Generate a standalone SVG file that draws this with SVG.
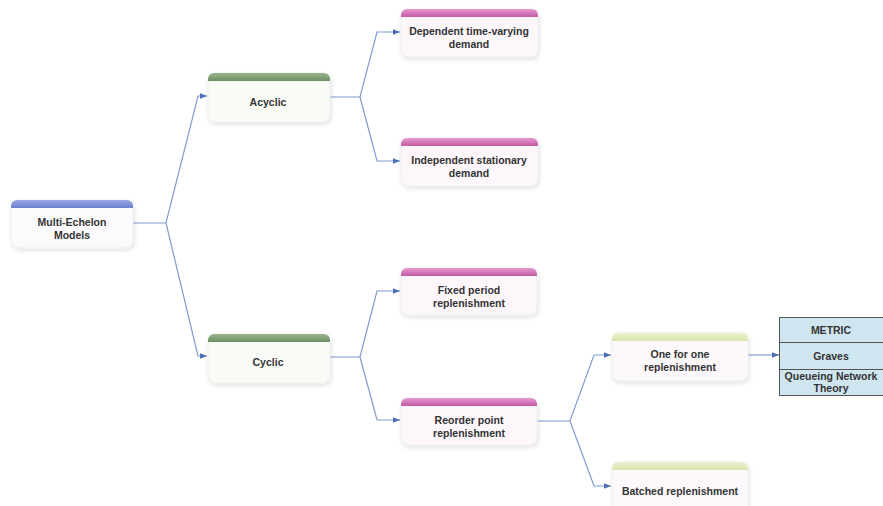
<svg xmlns="http://www.w3.org/2000/svg" width="883" height="506" viewBox="0 0 883 506">
  <defs>
    <filter id="shadow" x="-10%" y="-10%" width="130%" height="140%">
      <feDropShadow dx="1" dy="2" stdDeviation="2" flood-color="#000" flood-opacity="0.12"/>
    </filter>
    <linearGradient id="gBlue" x1="0" y1="0" x2="0" y2="1">
      <stop offset="0" stop-color="#9aa7e2"/><stop offset="1" stop-color="#6d80cf"/>
    </linearGradient>
    <linearGradient id="gGreen" x1="0" y1="0" x2="0" y2="1">
      <stop offset="0" stop-color="#9ab58f"/><stop offset="1" stop-color="#6e8f64"/>
    </linearGradient>
    <linearGradient id="gPink" x1="0" y1="0" x2="0" y2="1">
      <stop offset="0" stop-color="#e59ad0"/><stop offset="1" stop-color="#c55aa6"/>
    </linearGradient>
    <linearGradient id="gLime" x1="0" y1="0" x2="0" y2="1">
      <stop offset="0" stop-color="#eaf2cf"/><stop offset="1" stop-color="#d8e6b0"/>
    </linearGradient>
    <marker id="arrow" viewBox="0 0 10 10" refX="10" refY="5" markerWidth="9" markerHeight="7" markerUnits="userSpaceOnUse" orient="auto">
      <path d="M0,1 L10,5 L0,9 z" fill="#4a6fb5"/>
    </marker>
  </defs>
  <style>
    .body { stroke: #eeeeee; stroke-width: 1; filter: url(#shadow); }
    .label { font-family: "Liberation Sans", Arial, sans-serif; font-weight: bold; font-size: 10.5px; fill: #333333; text-anchor: middle; }
    .conn { fill: none; stroke: #7f9bd0; stroke-width: 1.2; }
    .cell { fill: #cfe6f0; stroke: #555555; stroke-width: 1; }
  </style>

  <rect width="883" height="506" fill="#ffffff"/>

  <!-- connectors -->
  <g id="connectors">
    <path class="conn" d="M133,223 H166 L198,96 H207" marker-end="url(#arrow)"/>
    <path class="conn" d="M166,223 L198,356 H207" marker-end="url(#arrow)"/>
    <path class="conn" d="M330,97 H360 L377,32 H400" marker-end="url(#arrow)"/>
    <path class="conn" d="M360,97 L377,161 H400" marker-end="url(#arrow)"/>
    <path class="conn" d="M330,357 H360 L377,291 H400" marker-end="url(#arrow)"/>
    <path class="conn" d="M360,357 L377,420 H400" marker-end="url(#arrow)"/>
    <path class="conn" d="M537,421 H570 L594,355 H611" marker-end="url(#arrow)"/>
    <path class="conn" d="M570,421 L594,486 H611" marker-end="url(#arrow)"/>
    <path class="conn" d="M748,355 H779" marker-end="url(#arrow)"/>
  </g>

  <g id="multi-echelon">
    <rect class="body" x="11" y="200" width="122" height="48" rx="7" fill="#fbfbfd"/>
    <path d="M11,208 V206 a6,6 0 0 1 6,-6 H127 a6,6 0 0 1 6,6 V208 z" fill="url(#gBlue)"/>
    <text class="label" x="72" y="226">Multi-Echelon</text>
    <text class="label" x="72" y="239">Models</text>
  </g>

  <g id="acyclic">
    <rect class="body" x="208" y="73" width="122" height="49" rx="7" fill="#f8fbf6"/>
    <path d="M208,81 V79 a6,6 0 0 1 6,-6 H324 a6,6 0 0 1 6,6 V81 z" fill="url(#gGreen)"/>
    <text class="label" x="268" y="106">Acyclic</text>
  </g>

  <g id="cyclic">
    <rect class="body" x="208" y="334" width="122" height="49" rx="7" fill="#f8fbf6"/>
    <path d="M208,342 V340 a6,6 0 0 1 6,-6 H324 a6,6 0 0 1 6,6 V342 z" fill="url(#gGreen)"/>
    <text class="label" x="268" y="366">Cyclic</text>
  </g>

  <g id="dependent">
    <rect class="body" x="401" y="9" width="137" height="48" rx="7" fill="#fdf7fc"/>
    <path d="M401,17 V15 a6,6 0 0 1 6,-6 H532 a6,6 0 0 1 6,6 V17 z" fill="url(#gPink)"/>
    <text class="label" x="469" y="35">Dependent time-varying</text>
    <text class="label" x="469" y="48">demand</text>
  </g>

  <g id="independent">
    <rect class="body" x="401" y="138" width="137" height="48" rx="7" fill="#fdf7fc"/>
    <path d="M401,146 V144 a6,6 0 0 1 6,-6 H532 a6,6 0 0 1 6,6 V146 z" fill="url(#gPink)"/>
    <text class="label" x="469" y="164">Independent stationary</text>
    <text class="label" x="469" y="177">demand</text>
  </g>

  <g id="fixed-period">
    <rect class="body" x="401" y="268" width="136" height="47" rx="7" fill="#fdf7fc"/>
    <path d="M401,276 V274 a6,6 0 0 1 6,-6 H531 a6,6 0 0 1 6,6 V276 z" fill="url(#gPink)"/>
    <text class="label" x="469" y="294">Fixed period</text>
    <text class="label" x="469" y="307">replenishment</text>
  </g>

  <g id="reorder-point">
    <rect class="body" x="401" y="398" width="136" height="47" rx="7" fill="#fdf7fc"/>
    <path d="M401,406 V404 a6,6 0 0 1 6,-6 H531 a6,6 0 0 1 6,6 V406 z" fill="url(#gPink)"/>
    <text class="label" x="469" y="424">Reorder point</text>
    <text class="label" x="469" y="437">replenishment</text>
  </g>

  <g id="one-for-one">
    <rect class="body" x="612" y="333" width="136" height="48" rx="7" fill="#fdf8fb"/>
    <path d="M612,341 V339 a6,6 0 0 1 6,-6 H742 a6,6 0 0 1 6,6 V341 z" fill="url(#gLime)"/>
    <text class="label" x="680" y="358">One for one</text>
    <text class="label" x="680" y="371">replenishment</text>
  </g>

  <g id="batched">
    <rect class="body" x="612" y="462" width="136" height="50" rx="7" fill="#fdf8fb"/>
    <path d="M612,470 V468 a6,6 0 0 1 6,-6 H742 a6,6 0 0 1 6,6 V470 z" fill="url(#gLime)"/>
    <text class="label" x="680" y="495">Batched replenishment</text>
  </g>

  <g id="methods-table">
    <rect class="cell" x="779.5" y="317.5" width="104" height="25"/>
    <rect class="cell" x="779.5" y="342.5" width="104" height="27" fill="#b9dbe8"/>
    <rect class="cell" x="779.5" y="369.5" width="104" height="26"/>
    <text class="label" x="831" y="334">METRIC</text>
    <text class="label" x="831" y="360">Graves</text>
    <text class="label" x="831" y="380">Queueing Network</text>
    <text class="label" x="831" y="392">Theory</text>
  </g>
</svg>
